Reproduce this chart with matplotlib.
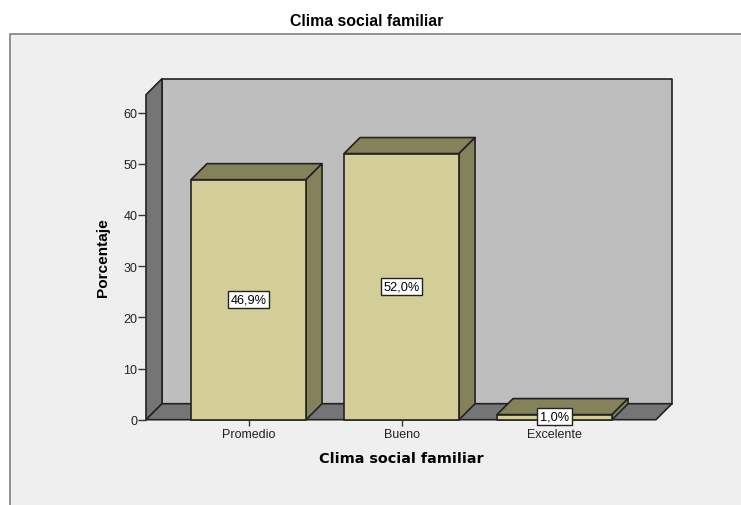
import matplotlib
matplotlib.use("Agg")
import matplotlib.pyplot as plt
from matplotlib.patches import Polygon, Rectangle

plt.rcParams["font.family"] = ["Liberation Sans", "DejaVu Sans"]

categories = ["Promedio", "Bueno", "Excelente"]
percent = [46.9, 52.0, 1.0]
percent_labels = ["46,9%", "52,0%", "1,0%"]
y_ticks = [0, 10, 20, 30, 40, 50, 60]

W, H = 741, 506
BG = "#EFEFEF"
WALL = "#BEBEBE"
SIDE = "#757575"
BAR_FRONT = "#D3CE97"
BAR_SHADE = "#85815B"
EDGE = "#222222"

fig = plt.figure(figsize=(W / 100, H / 100), dpi=100, facecolor="white")

# outer frame runs off the right and bottom of the image
fig.add_artist(Rectangle((10 / W, -0.02), 0.99, 1 - 35 / H + 0.02,
                         transform=fig.transFigure, facecolor=BG,
                         edgecolor="#808080", linewidth=1.2, zorder=-1))
fig.text(367 / W, 1 - 21 / H, "Clima social familiar", fontsize=11.4,
         fontweight="bold", ha="center", va="center")

# front plane of the 3D box, in pixels
left, right, bottom, top = 146, 656, 420.7, 95.7
ax = fig.add_axes([left / W, 1 - bottom / H, (right - left) / W, (bottom - top) / H])
ax.patch.set_visible(False)
ax.set_xlim(-0.67, 2.663)
ax.set_ylim(0, 63.5)
for s in ax.spines.values():
    s.set_visible(False)

# depth of the extrusion in data units
dx = 16 / 153
dy = 16 / 5.117
bar_w = 115 / 153
x0, x1 = ax.get_xlim()
y0, y1 = ax.get_ylim()


def poly(pts, color, z=1, lw=1.2):
    ax.add_patch(Polygon(pts, closed=True, facecolor=color, edgecolor=EDGE,
                         linewidth=lw, clip_on=False, zorder=z, joinstyle="round"))


poly([(x0 + dx, y0 + dy), (x1 + dx, y0 + dy), (x1 + dx, y1 + dy), (x0 + dx, y1 + dy)], WALL)
poly([(x0, y0), (x0 + dx, y0 + dy), (x0 + dx, y1 + dy), (x0, y1)], SIDE)
poly([(x0, y0), (x1, y0), (x1 + dx, y0 + dy), (x0 + dx, y0 + dy)], SIDE)

for i, v in enumerate(percent):
    a, b = i - bar_w / 2, i + bar_w / 2
    poly([(a, v), (b, v), (b + dx, v + dy), (a + dx, v + dy)], BAR_SHADE, z=2)
    poly([(b, 0), (b + dx, dy), (b + dx, v + dy), (b, v)], BAR_SHADE, z=2)
    poly([(a, 0), (b, 0), (b, v), (a, v)], BAR_FRONT, z=3)
    ax.text(i, max(v / 2, 0.6), percent_labels[i], fontsize=9.2, ha="center", va="center",
            zorder=5, clip_on=False,
            bbox=dict(boxstyle="square,pad=0.2", facecolor="white", edgecolor=EDGE, linewidth=1))

ax.set_xticks(range(len(categories)), categories)
ax.set_yticks(y_ticks)
ax.tick_params(axis="x", length=4.5, width=1, color="#333333", labelsize=9, pad=1.5,
               labelcolor="#222222")
ax.tick_params(axis="y", length=5.5, width=1, color="#333333", labelsize=9, pad=0.8,
               labelcolor="#222222")

fig.text(401 / W, 1 - 459 / H, "Clima social familiar", fontsize=10.4,
         fontweight="bold", family="DejaVu Sans", ha="center", va="center")
fig.text(103 / W, 1 - 258 / H, "Porcentaje", fontsize=11.1, fontweight="bold",
         rotation=90, ha="center", va="center")

fig.savefig("out.png", dpi=100)
